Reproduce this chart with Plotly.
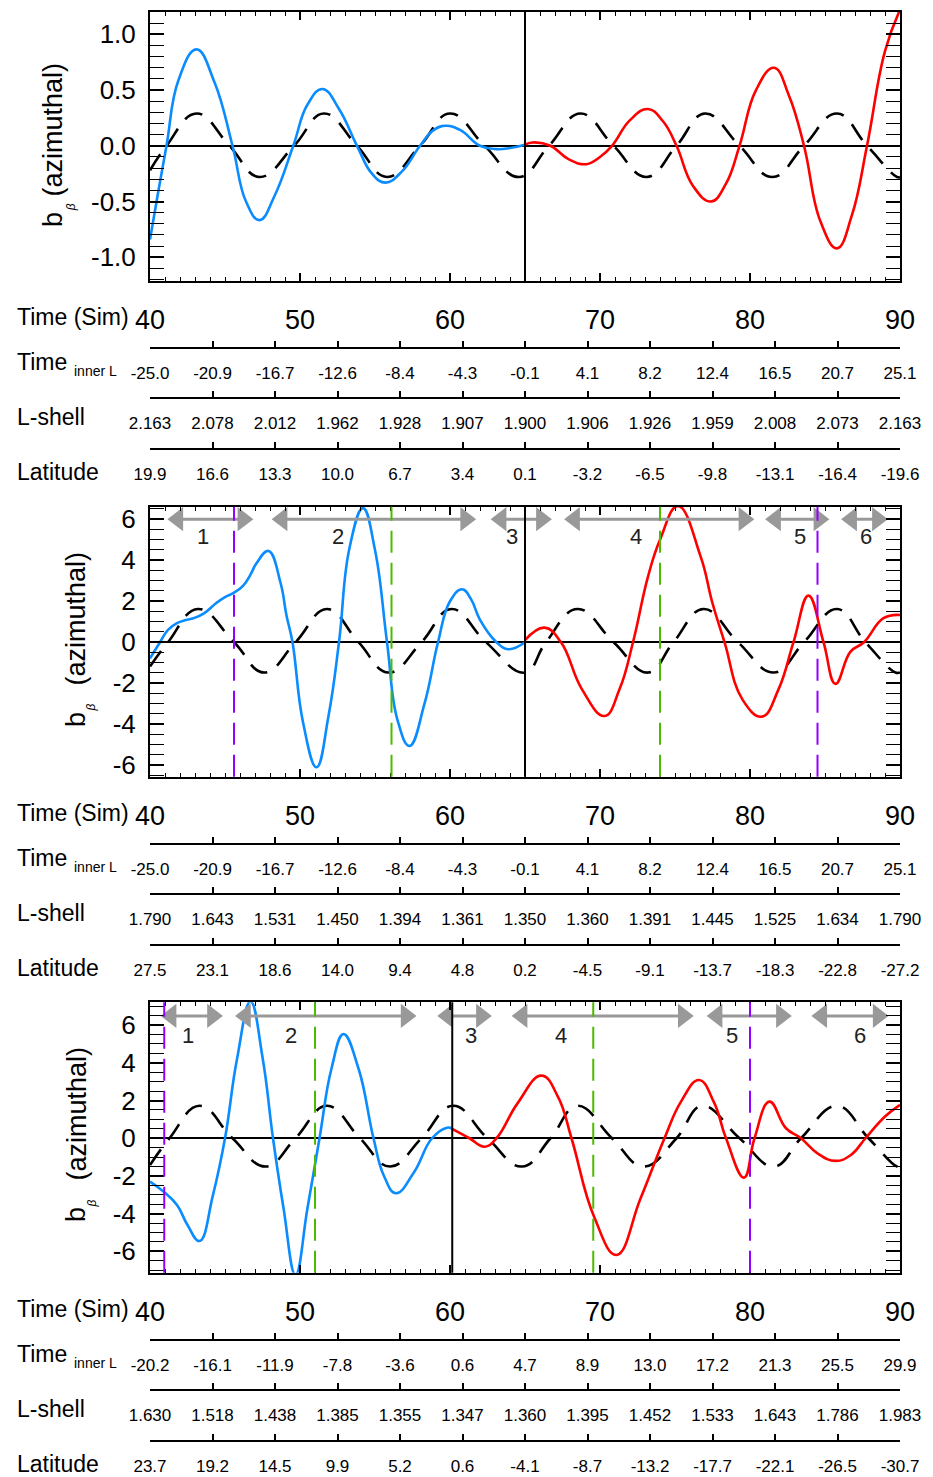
import numpy as np
import plotly.graph_objects as go

# ---------------- data ----------------
sim_tick_vals = [40, 50, 60, 70, 80, 90]
sim_tick_text = ["40", "50", "60", "70", "80", "90"]

# panel 1
p1_dash_t = [40.0, 41.1, 43.1, 45.3, 47.3, 49.6, 51.6, 53.8, 55.8, 58.0, 60.0, 62.3, 64.6, 66.6,
             68.7, 70.9, 73.1, 75.1, 77.0, 79.3, 81.5, 83.6, 85.8, 87.8, 89.8, 90.0]
p1_dash_v = [-0.22, 0.0, 0.29, 0.0, -0.28, 0.0, 0.29, 0.0, -0.28, 0.0, 0.29, 0.0, -0.28, 0.0,
             0.29, 0.0, -0.28, 0.0, 0.29, 0.0, -0.28, 0.0, 0.29, 0.0, -0.28, -0.28]
p1_blue_t = [40.0, 40.5, 41.1, 41.9, 43.1, 44.3, 45.5, 46.4, 47.3, 48.3, 49.55, 50.5, 51.5, 52.6,
             53.8, 54.8, 55.7, 56.8, 58.0, 58.9, 59.7, 60.7, 62.0, 63.1, 64.0, 65.0]
p1_blue_v = [-0.84, -0.45, 0.0, 0.59, 0.865, 0.57, 0.0, -0.5, -0.667, -0.45, 0.0, 0.37, 0.51, 0.33,
             0.0, -0.25, -0.33, -0.23, 0.0, 0.14, 0.18, 0.14, 0.0, -0.03, -0.02, 0.01]
p1_red_t = [65.0, 65.5, 66.7, 67.9, 69.1, 70.0, 70.8, 72.0, 73.2, 74.2, 75.1, 76.2, 77.4, 78.4,
            79.3, 80.4, 81.6, 82.6, 83.6, 84.7, 85.8, 86.8, 87.8, 89.0, 90.0]
p1_red_v = [0.01, 0.03, 0.0, -0.12, -0.165, -0.1, 0.0, 0.23, 0.33, 0.22, 0.0, -0.36, -0.50, -0.34,
            0.0, 0.5, 0.70, 0.45, 0.0, -0.68, -0.92, -0.62, 0.0, 0.85, 1.22]

# panel 2
p2_dash_t = [40.0, 41.2, 43.2, 45.6, 47.6, 49.7, 51.8, 53.9, 55.9, 58.1, 60.1, 62.4, 65.0, 66.4,
             68.5, 70.9, 73.2, 74.9, 76.9, 79.2, 81.6, 83.6, 85.8, 87.7, 89.7, 90.0]
p2_dash_v = [-1.19, 0.0, 1.62, 0.0, -1.48, 0.0, 1.62, 0.0, -1.48, 0.0, 1.62, 0.0, -1.48, 0.0,
             1.62, 0.0, -1.48, 0.0, 1.62, 0.0, -1.48, 0.0, 1.62, 0.0, -1.48, -1.47]
p2_blue_t = [40.0, 40.67, 41.2, 41.8, 42.4, 42.9, 43.6, 44.4, 45.0, 45.55, 46.2, 46.7, 47.1, 47.9,
             48.7, 49.1, 49.5, 50.2, 51.1, 51.9, 52.6, 53.3, 54.2, 55.0, 55.8, 56.5, 57.3, 58.3,
             59.2, 60.0, 60.8, 61.4, 62.0, 63.1, 63.9, 65.0]
p2_blue_v = [-0.78, 0.0, 0.6, 0.93, 1.08, 1.17, 1.41, 1.9, 2.2, 2.39, 2.75, 3.3, 3.85, 4.45,
             2.9, 1.3, 0.0, -3.9, -6.1, -3.6, 0.0, 4.6, 6.54, 4.5, 0.0, -3.8, -5.06, -3.0,
             0.0, 2.0, 2.58, 2.1, 1.09, 0.0, -0.34, 0.0]
p2_red_t = [65.0, 66.3, 67.4, 68.8, 70.3, 71.3, 72.2, 73.2, 74.0, 75.2, 76.7, 77.5, 78.3, 79.5,
            80.8, 81.9, 82.9, 83.9, 84.9, 85.7, 86.7, 87.6, 88.9, 90.0]
p2_red_v = [0.1, 0.71, 0.0, -2.3, -3.6, -2.3, 0.0, 3.2, 5.0, 6.65, 4.2, 1.9, 0.0, -2.8,
            -3.63, -2.3, 0.0, 2.27, 0.0, -2.03, -0.46, 0.0, 1.17, 1.33]

# panel 3
p3_dash_t = [40.0, 41.3, 43.3, 45.5, 47.7, 49.7, 51.8, 54.0, 56.0, 58.1, 60.2, 62.5, 64.8, 66.7,
             68.5, 70.8, 72.9, 75.1, 76.8, 79.3, 81.6, 83.4, 85.8, 87.9, 89.8, 90.0]
p3_dash_v = [-1.42, 0.0, 1.72, 0.0, -1.5, 0.0, 1.72, 0.0, -1.5, 0.0, 1.72, 0.0, -1.5, 0.0,
             1.72, 0.0, -1.5, 0.0, 1.72, 0.0, -1.5, 0.0, 1.72, 0.0, -1.5, -1.49]
p3_blue_t = [40.0, 40.9, 41.8, 42.5, 43.3, 44.2, 45.0, 45.8, 46.7, 47.5, 48.2, 48.9, 49.7, 50.5,
             51.3, 52.1, 52.9, 53.9, 54.9, 55.6, 56.4, 57.6, 58.8, 59.8, 60.15]
p3_blue_v = [-2.3, -2.83, -3.54, -4.6, -5.45, -3.0, 0.0, 4.2, 7.25, 4.3, 0.0, -3.7, -7.25, -3.7,
             0.0, 3.7, 5.52, 3.7, 0.0, -2.0, -2.92, -1.8, 0.0, 0.56, 0.5]
p3_red_t = [60.15, 60.67, 61.3, 62.3, 63.1, 64.5, 66.1, 67.2, 68.1, 69.6, 71.1, 72.7, 74.3, 75.4,
            76.6, 77.6, 78.4, 79.6, 80.3, 81.3, 82.4, 83.4, 84.5, 85.7, 86.7, 87.7, 89.0, 90.0]
p3_red_v = [0.5, 0.27, 0.0, -0.45, 0.0, 1.85, 3.32, 2.2, 0.0, -4.15, -6.19, -3.2, 0.0, 1.94,
            3.09, 1.9, 0.0, -2.09, 0.0, 1.94, 0.53, 0.0, -0.8, -1.2, -0.9, 0.0, 1.15, 1.77]

split_times = [65.0, 65.0, 60.15]

# vertical reference markers (panels 2, 3)
p2_purple_t = [45.6, 84.5]
p2_green_t = [56.1, 74.0]
p3_purple_t = [40.95, 80.0]
p3_green_t = [51.0, 69.55]

# interval arrows (panels 2, 3): tip-to-tip extents in time units
p2_arrow_start = [41.05, 48.0, 62.6, 67.5, 80.9, 85.97]
p2_arrow_end = [47.0, 61.85, 66.9, 80.4, 85.4, 89.3]
p2_arrow_label_t = [43.5, 52.5, 64.1, 72.4, 83.3, 87.75]
p3_arrow_start = [40.6, 45.56, 59.04, 64.0, 77.0, 83.98]
p3_arrow_end = [44.97, 57.88, 62.9, 76.36, 82.9, 89.35]
p3_arrow_label_t = [42.5, 49.4, 61.4, 67.4, 78.8, 87.3]
arrow_labels = ["1", "2", "3", "4", "5", "6"]
p2_arrow_y, p2_label_y = 6.0, 5.14
p3_arrow_y, p3_label_y = 6.49, 5.43

# secondary axis labels
inner_L_p1 = ["-25.0", "-20.9", "-16.7", "-12.6", "-8.4", "-4.3", "-0.1", "4.1", "8.2", "12.4", "16.5", "20.7", "25.1"]
lshell_p1 = ["2.163", "2.078", "2.012", "1.962", "1.928", "1.907", "1.900", "1.906", "1.926", "1.959", "2.008", "2.073", "2.163"]
lat_p1 = ["19.9", "16.6", "13.3", "10.0", "6.7", "3.4", "0.1", "-3.2", "-6.5", "-9.8", "-13.1", "-16.4", "-19.6"]
inner_L_p2 = ["-25.0", "-20.9", "-16.7", "-12.6", "-8.4", "-4.3", "-0.1", "4.1", "8.2", "12.4", "16.5", "20.7", "25.1"]
lshell_p2 = ["1.790", "1.643", "1.531", "1.450", "1.394", "1.361", "1.350", "1.360", "1.391", "1.445", "1.525", "1.634", "1.790"]
lat_p2 = ["27.5", "23.1", "18.6", "14.0", "9.4", "4.8", "0.2", "-4.5", "-9.1", "-13.7", "-18.3", "-22.8", "-27.2"]
inner_L_p3 = ["-20.2", "-16.1", "-11.9", "-7.8", "-3.6", "0.6", "4.7", "8.9", "13.0", "17.2", "21.3", "25.5", "29.9"]
lshell_p3 = ["1.630", "1.518", "1.438", "1.385", "1.355", "1.347", "1.360", "1.395", "1.452", "1.533", "1.643", "1.786", "1.983"]
lat_p3 = ["23.7", "19.2", "14.5", "9.9", "5.2", "0.6", "-4.1", "-8.7", "-13.2", "-17.7", "-22.1", "-26.5", "-30.7"]

y_tick_vals = [[-1.0, -0.5, 0.0, 0.5, 1.0], [-6, -4, -2, 0, 2, 4, 6], [-6, -4, -2, 0, 2, 4, 6]]
y_tick_text = [["-1.0", "-0.5", "0.0", "0.5", "1.0"],
               ["-6", "-4", "-2", "0", "2", "4", "6"],
               ["-6", "-4", "-2", "0", "2", "4", "6"]]

# ---------------- layout constants ----------------
W, H = 933, 1477
FONT = "Liberation Sans, Arial, Helvetica, sans-serif"
X0, X1 = 150.0, 900.0
PX_PER_T = (X1 - X0) / 50.0
frames = [(11.7, 281.0), (506.7, 776.7), (1002.3, 1272.7)]
y_ranges = [[-1.213, 1.203], [-6.56, 6.61], [-7.13, 7.21]]
y_minor = [0.1, 0.5, 0.5]
ytitle_main = [(53, -16.8), (76, -23.2), (76, -24.0)]
ytitle_b = [(53, 73.7), (76, 78.3), (76, 77.5)]
ytitle_beta = [(71, 61.0), (91, 65.8), (91, 66.0)]
extra_offsets = [67, 117, 168]

BLUE = "#0a8cff"
RED = "#ff0000"
PURPLE = "#9400ff"
GREEN = "#4cbb00"
GRAY = "#999999"
HEAD_SIZE = 21
HEAD_TIP = HEAD_SIZE / 2 * 2 / np.sqrt(3)  # px from marker centre to tip
SMOOTH = 1.25


def py(p):
    return 1 - p / H


panels = [
    dict(dash=(p1_dash_t, p1_dash_v), blue=(p1_blue_t, p1_blue_v), red=(p1_red_t, p1_red_v),
         extra=[inner_L_p1, lshell_p1, lat_p1]),
    dict(dash=(p2_dash_t, p2_dash_v), blue=(p2_blue_t, p2_blue_v), red=(p2_red_t, p2_red_v),
         extra=[inner_L_p2, lshell_p2, lat_p2]),
    dict(dash=(p3_dash_t, p3_dash_v), blue=(p3_blue_t, p3_blue_v), red=(p3_red_t, p3_red_v),
         extra=[inner_L_p3, lshell_p3, lat_p3]),
]

extra_tick_vals = list(np.linspace(40, 90, 13))

fig = go.Figure()
layout = dict(width=W, height=H, margin=dict(l=0, r=0, t=0, b=0, pad=0, autoexpand=False),
              autosize=False, paper_bgcolor="white", plot_bgcolor="white", showlegend=False,
              font=dict(family=FONT, color="black"))
shapes = []
annotations = []


def txt(text, x, y, size, xanchor="left", angle=0, color="black"):
    return dict(text=text, xref="paper", yref="paper", x=x / W, y=py(y), xanchor=xanchor,
                yanchor="middle", showarrow=False, textangle=angle,
                font=dict(size=size, family=FONT, color=color))


for i, p in enumerate(panels):
    xid = "x" if i == 0 else f"x{i + 1}"
    yid = "y" if i == 0 else f"y{i + 1}"
    xkey = "xaxis" if i == 0 else f"xaxis{i + 1}"
    ykey = "yaxis" if i == 0 else f"yaxis{i + 1}"
    top, bot = frames[i]
    mid = (top + bot) / 2

    fig.add_trace(go.Scatter(x=p["dash"][0], y=p["dash"][1], mode="lines", xaxis=xid, yaxis=yid,
                             line=dict(color="black", width=2.6, dash="19px,12px", shape="spline",
                                       smoothing=SMOOTH), hoverinfo="skip"))
    fig.add_trace(go.Scatter(x=p["blue"][0], y=p["blue"][1], mode="lines", xaxis=xid, yaxis=yid,
                             line=dict(color=BLUE, width=2.6, shape="spline", smoothing=SMOOTH),
                             hoverinfo="skip"))
    fig.add_trace(go.Scatter(x=p["red"][0], y=p["red"][1], mode="lines", xaxis=xid, yaxis=yid,
                             line=dict(color=RED, width=2.6, shape="spline", smoothing=SMOOTH),
                             hoverinfo="skip"))

    layout[xkey] = dict(
        domain=[X0 / W, X1 / W], range=[40, 90], anchor=yid, automargin=False,
        showline=True, linewidth=2, linecolor="black", mirror="allticks",
        ticks="inside", ticklen=8, tickwidth=1.5, tickcolor="black",
        tickmode="array", tickvals=sim_tick_vals, ticktext=sim_tick_text,
        tickfont=dict(size=27, family=FONT, color="black"), ticklabelstandoff=14,
        minor=dict(tickmode="linear", tick0=40, dtick=1, ticks="inside", ticklen=4,
                   tickwidth=1.2, tickcolor="black"),
        showgrid=False, zeroline=False, fixedrange=True)
    layout[ykey] = dict(
        domain=[py(bot), py(top)], range=y_ranges[i], anchor=xid, automargin=False,
        showline=True, linewidth=2, linecolor="black", mirror="allticks",
        ticks="inside", ticklen=14, tickwidth=1.5, tickcolor="black",
        tickmode="array", tickvals=y_tick_vals[i], ticktext=y_tick_text[i],
        tickfont=dict(size=26, family=FONT, color="black"), ticklabelstandoff=7,
        minor=dict(tickmode="linear", tick0=0, dtick=y_minor[i], ticks="inside", ticklen=7,
                   tickwidth=1.2, tickcolor="black"),
        showgrid=False, zeroline=True, zerolinecolor="black", zerolinewidth=2, fixedrange=True)

    for j, labels in enumerate(p["extra"]):
        n = 4 + 3 * i + j
        layout[f"xaxis{n}"] = dict(
            domain=[X0 / W, X1 / W], range=[40, 90], overlaying=xid, anchor="free",
            position=py(bot + extra_offsets[j]), side="bottom", automargin=False,
            showline=True, linewidth=2, linecolor="black",
            ticks="inside", ticklen=6, tickwidth=1.5, tickcolor="black",
            tickmode="array", tickvals=extra_tick_vals, ticktext=labels,
            tickfont=dict(size=17, family=FONT, color="black"), ticklabelstandoff=10,
            showgrid=False, zeroline=False, fixedrange=True)
        fig.add_trace(go.Scatter(x=[None], y=[None], xaxis=f"x{n}", yaxis=yid, mode="lines",
                                 hoverinfo="skip"))

    shapes.append(dict(type="line", xref=xid, yref=f"{yid} domain", x0=split_times[i], x1=split_times[i],
                       y0=0, y1=1, line=dict(color="black", width=2)))

    annotations.append(txt("(azimuthal)", ytitle_main[i][0], mid + ytitle_main[i][1], 27, "center", -90))
    annotations.append(txt("b", ytitle_b[i][0], mid + ytitle_b[i][1], 27, "center", -90))
    annotations.append(txt("<i>β</i>", ytitle_beta[i][0], mid + ytitle_beta[i][1], 12, "center", -90))

    annotations.append(txt("Time (Sim)", 15, bot + 36, 23))
    annotations.append(txt("Time", 15, bot + 81, 23))
    annotations.append(txt("inner L", 72, bot + 90, 14))
    annotations.append(txt("L-shell", 15, bot + 136, 23))
    annotations.append(txt("Latitude", 15, bot + 191, 23))

for i, (purp, grn) in enumerate([(p2_purple_t, p2_green_t), (p3_purple_t, p3_green_t)]):
    xid = f"x{i + 2}"
    yid = f"y{i + 2}"
    for t in purp:
        shapes.append(dict(type="line", xref=xid, yref=f"{yid} domain", x0=t, x1=t, y0=0, y1=1,
                           line=dict(color=PURPLE, width=2, dash="22px,10px")))
    for t in grn:
        shapes.append(dict(type="line", xref=xid, yref=f"{yid} domain", x0=t, x1=t, y0=0, y1=1,
                           line=dict(color=GREEN, width=2, dash="22px,10px")))

head_off = HEAD_TIP / PX_PER_T
for i, (st, en, lt, ay, ly) in enumerate([
        (p2_arrow_start, p2_arrow_end, p2_arrow_label_t, p2_arrow_y, p2_label_y),
        (p3_arrow_start, p3_arrow_end, p3_arrow_label_t, p3_arrow_y, p3_label_y)]):
    xid = f"x{i + 2}"
    yid = f"y{i + 2}"
    for a, b, t, lab in zip(st, en, lt, arrow_labels):
        fig.add_trace(go.Scatter(x=[a + head_off, b - head_off], y=[ay, ay], xaxis=xid, yaxis=yid,
                                 mode="lines+markers", hoverinfo="skip", cliponaxis=False,
                                 line=dict(color=GRAY, width=3),
                                 marker=dict(symbol=["triangle-left", "triangle-right"],
                                             size=HEAD_SIZE, color=GRAY, line=dict(width=0))))
        annotations.append(dict(x=t, y=ly, xref=xid, yref=yid, text=lab, showarrow=False,
                                xanchor="center", yanchor="middle",
                                font=dict(size=22, family=FONT, color="#222222")))

layout["shapes"] = shapes
layout["annotations"] = annotations
fig.update_layout(**layout)
fig.write_html("out.html")
